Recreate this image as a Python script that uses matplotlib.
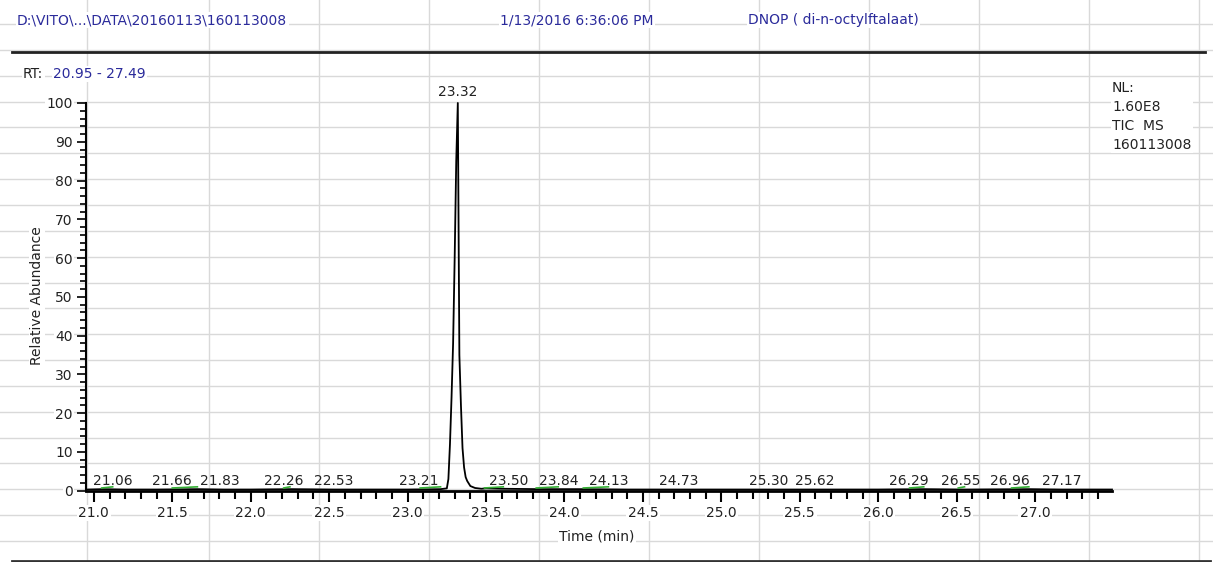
import numpy as np
import matplotlib.pyplot as plt
from matplotlib.lines import Line2D

# chromatogram trace (TIC, relative abundance)
time = [20.95, 21.06, 21.2, 21.4, 21.66, 21.83, 22.0, 22.26, 22.53, 22.8, 23.0,
        23.21, 23.25, 23.26, 23.27, 23.28, 23.29, 23.30, 23.31, 23.32, 23.33,
        23.34, 23.35, 23.36, 23.37, 23.38, 23.40, 23.43, 23.47, 23.50, 23.6,
        23.84, 24.13, 24.4, 24.73, 25.0, 25.30, 25.62, 26.0, 26.29, 26.55,
        26.96, 27.17, 27.49]
abundance = [0.3, 0.4, 0.3, 0.3, 0.4, 0.3, 0.3, 0.4, 0.3, 0.3, 0.3,
             0.4, 0.6, 3, 12, 24, 38, 60, 85, 100, 35,
             22, 11, 6, 3.5, 2.5, 1.2, 0.7, 0.5, 0.6, 0.5,
             0.4, 0.4, 0.3, 0.3, 0.3, 0.3, 0.3, 0.3, 0.4, 0.3,
             0.4, 0.3, 0.3]

# labelled retention times
peak_rt = [21.06, 21.66, 21.83, 22.26, 22.53, 23.21, 23.50, 23.84, 24.13,
           24.73, 25.30, 25.62, 26.29, 26.55, 26.96, 27.17]
main_peak = 23.32

# integration marks (green)
mark_start = [21.05, 21.50, 22.21, 23.08, 23.49, 23.82, 24.12, 26.20, 26.51, 26.85]
mark_end = [21.12, 21.66, 22.25, 23.21, 23.61, 23.96, 24.28, 26.29, 26.55, 26.96]

# label shifts in pixels so labels don't overlap
label_shift = {21.06: 10, 21.66: -26, 21.83: -4, 22.26: -8, 23.21: -22, 23.50: 23,
               23.84: 19, 24.13: 24, 25.62: -4, 26.29: -15, 26.55: -4, 26.96: -19}

W, H = 1213, 562
fig = plt.figure(figsize=(W / 100, H / 100), dpi=100)

def fx(x):
    return x / W

def fy(y):
    return 1 - y / H

# spreadsheet grid behind the picture
grey = '#d9d9d9'
for y in 24 + 25.85 * np.arange(21):
    fig.add_artist(Line2D([0, 1], [fy(y), fy(y)], color=grey, lw=1.0, zorder=-2))
for x in [87, 209] + list(319 + 110 * np.arange(9)):
    fig.add_artist(Line2D([fx(x), fx(x)], [0, 1], color=grey, lw=1.0, zorder=-2))

# separator lines
fig.add_artist(Line2D([fx(12), fx(1205)], [fy(52), fy(52)], color='#222222', lw=2.0, zorder=-1))
fig.add_artist(Line2D([fx(12), fx(1210)], [fy(560.5), fy(560.5)], color='#333333', lw=2.0, zorder=-1))

wbox = dict(facecolor='white', edgecolor='none', pad=1)
blue = '#2b2b9b'
fig.text(fx(17), fy(20), 'D:\\VITO\\...\\DATA\\20160113\\160113008', color=blue,
         fontsize=10, va='center', bbox=wbox)
fig.text(fx(500), fy(20), '1/13/2016 6:36:06 PM', color=blue, fontsize=10,
         va='center', bbox=wbox)
fig.text(fx(748), fy(20), 'DNOP ( di-n-octylftalaat)', color=blue, fontsize=10,
         va='center', bbox=wbox)
fig.text(fx(23), fy(74), 'RT:', color='#222222', fontsize=10, va='center', bbox=wbox)
fig.text(fx(53), fy(74), '20.95 - 27.49', color=blue, fontsize=10, va='center', bbox=wbox)
fig.text(fx(1112), fy(81), 'NL:\n1.60E8\nTIC  MS\n160113008', color='#222222',
         fontsize=10, va='top', linespacing=1.45, bbox=wbox)

ax = fig.add_axes([fx(86), fy(490.7), (1112 - 86) / W, (490.7 - 103) / H])
ax.patch.set_visible(False)

ax.plot(time, abundance, color='black', lw=1.3, clip_on=False)
for s, e in zip(mark_start, mark_end):
    ax.plot([s, e], [0.7, 1.0], color='#35b035', lw=1.2)

for rt in peak_rt:
    ax.annotate(f'{rt:.2f}', xy=(rt, 0), xytext=(label_shift.get(rt, 0), 6),
                textcoords='offset pixels', ha='center', va='baseline',
                fontsize=10, color='#222222')
ax.annotate(f'{main_peak:.2f}', xy=(main_peak, 100), xytext=(0, 7),
            textcoords='offset pixels', ha='center', va='baseline',
            fontsize=10, color='#222222', annotation_clip=False)

ax.set_xlim(20.95, 27.49)
ax.set_ylim(0, 100)
ax.set_xticks(np.arange(21.0, 27.01, 0.5))
ax.set_xticks(np.arange(21.0, 27.45, 0.1), minor=True)
ax.set_yticks(np.arange(0, 101, 10))
ax.set_yticks(np.arange(0, 101, 2), minor=True)
ax.set_xticklabels([f'{v:.1f}' for v in np.arange(21.0, 27.01, 0.5)])

for side in ['top', 'right']:
    ax.spines[side].set_visible(False)
ax.spines['left'].set_linewidth(1.5)
ax.spines['bottom'].set_linewidth(2.0)

ax.tick_params(axis='x', which='major', length=8, width=1.5, pad=3, labelsize=10, labelcolor='#222222')
ax.tick_params(axis='x', which='minor', length=5.5, width=1.5)
ax.tick_params(axis='y', which='major', length=6.5, width=1.2, pad=3, labelsize=10, labelcolor='#222222')
ax.tick_params(axis='y', which='minor', length=4.3, width=1.2)
plt.setp(ax.get_xticklabels(), bbox=wbox)
plt.setp(ax.get_yticklabels(), bbox=wbox)

ax.set_xlabel('Time (min)', fontsize=10, color='#222222', labelpad=2, bbox=wbox)
ax.set_ylabel('Relative Abundance', fontsize=10, color='#222222', bbox=wbox)
ax.yaxis.set_label_coords(fx(37 - 86) / ((1112 - 86) / W), (490.7 - 296) / (490.7 - 103))
ax.xaxis.set_label_coords((597 - 86) / (1112 - 86), -(537 - 490.7) / (490.7 - 103))
ax.xaxis.label.set_va('center')
ax.yaxis.label.set_va('center')

fig.savefig('out.png', dpi=100)
